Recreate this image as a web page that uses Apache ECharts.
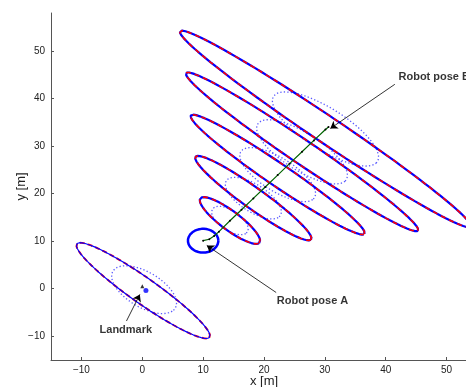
<!DOCTYPE html>
<html>
<head>
<meta charset="utf-8">
<script src="https://cdn.jsdelivr.net/npm/echarts@6/dist/echarts.min.js"></script>
<style>
html, body { margin: 0; padding: 0; background: #fff; }
#main { width: 466px; height: 387px; }
</style>
</head>
<body>
<div id="main"></div>
<script>
// tick labels
var xTicks = [-10, 0, 10, 20, 30, 40, 50];
var yTicks = [-10, 0, 10, 20, 30, 40, 50];

// robot poses along the path, with their covariance ellipses (solid) and dotted ones
var poseX = [14.4, 18.25, 22.25, 26.25, 30.1];
var poseY = [14.35, 19.05, 24.0, 28.8, 33.6];
var bigA = [6.75, 12.9, 18.96, 25.27, 31.55];
var bigB = [1.8, 2.0, 2.15, 2.3, 2.55];
var bigAng = [-44.7, -42.8, -41.3, -41.1, -40.8];
var dotA = [3.8, 5.8, 7.8, 9.4, 11];
var dotB = [1.9, 2.6, 3.2, 3.6, 4];

// landmark ellipse [cx, cy, a, b, angle]
var lmBig = [0.15, -0.4, 14.7, 2.46, -42.4];
var lmDot = [0.3, -0.2, 6.5, 3.4, -42];
var lmEst = [0.6, -0.4];
var lmTrue = [0, 0.5];

// pose A circle [cx, cy, r]
var poseA = [10, 10.1, 2.5];

// trajectory
var pathX = [10, 11, 11.8, 12.6, 14.4, 16.3, 18.25, 20.2, 22.25, 24.2, 26.25, 28.2, 30.1, 30.6];
var pathY = [10.1, 10.4, 11.1, 12.0, 14.3, 16.6, 19.0, 21.4, 23.9, 26.3, 28.8, 31.2, 33.5, 34.0];

// annotations
var notes = [
	{ text: 'Landmark', at: [-2.7, -8.7], align: 'center', from: [-2.6, -6.8], to: [-0.4, -1.2] },
	{ text: 'Robot pose A', at: [22.1, -2.5], align: 'left', from: [22.0, -0.8], to: [10.6, 9.1] },
	{ text: 'Robot pose B', at: [42.1, 44.6], align: 'left', from: [41.5, 43.0], to: [30.9, 33.7] }
];

function ellipse(cx, cy, a, b, deg) {
	var t = deg * Math.PI / 180, pts = [];
	for (var i = 0; i <= 120; i++) {
		var s = i / 120 * 2 * Math.PI;
		var u = a * Math.cos(s), v = b * Math.sin(s);
		pts.push([cx + u * Math.cos(t) - v * Math.sin(t), cy + u * Math.sin(t) + v * Math.cos(t)]);
	}
	return pts;
}

function lineSeries(data, color, width, type, z) {
	return {
		type: 'line',
		data: data,
		showSymbol: false,
		silent: true,
		lineStyle: { color: color, width: width, type: type },
		z: z
	};
}

var series = [];

// dotted ellipses
for (var i = 0; i < poseX.length; i++) {
	series.push(lineSeries(ellipse(poseX[i], poseY[i], dotA[i], dotB[i], bigAng[i]), '#5a5aff', 1.3, [1.3, 2.2], 1));
}
series.push(lineSeries(ellipse(lmDot[0], lmDot[1], lmDot[2], lmDot[3], lmDot[4]), '#5a5aff', 1.3, [1.3, 2.2], 1));

// big ellipses: blue solid, red dashed on top
for (var i = 0; i < poseX.length; i++) {
	var e = ellipse(poseX[i], poseY[i], bigA[i], bigB[i], bigAng[i]);
	series.push(lineSeries(e, '#0000ff', 2.2, 'solid', 3));
	series.push(lineSeries(e, '#ff0000', 1.6, [5, 4], 4));
}
var lm = ellipse(lmBig[0], lmBig[1], lmBig[2], lmBig[3], lmBig[4]);
series.push(lineSeries(lm, '#ff0000', 1.9, [5, 3], 3));
series.push(lineSeries(lm, '#0000ff', 1.2, 'solid', 4));

// pose A circle
series.push(lineSeries(ellipse(poseA[0], poseA[1], poseA[2], poseA[2], 0), '#0000ff', 2.5, 'solid', 3));

// trajectory
series.push({
	type: 'line',
	data: pathX.map(function (x, i) { return [x, pathY[i]]; }),
	showSymbol: true,
	symbol: 'circle',
	symbolSize: 2,
	itemStyle: { color: '#000' },
	lineStyle: { color: '#006400', width: 1.2 },
	silent: true,
	z: 6
});

// landmark markers
series.push({
	type: 'scatter',
	data: [lmEst],
	symbol: 'circle',
	symbolSize: 5,
	itemStyle: { color: '#0000ff' },
	silent: true,
	z: 7
});
series.push({
	type: 'scatter',
	data: [lmTrue],
	symbol: 'triangle',
	symbolSize: 4,
	itemStyle: { color: '#000' },
	silent: true,
	z: 7
});

// arrows
series.push({
	type: 'lines',
	coordinateSystem: 'cartesian2d',
	symbol: ['none', 'arrow'],
	symbolSize: 7,
	silent: true,
	lineStyle: { color: '#000', width: 0.8, opacity: 1 },
	data: notes.map(function (n) { return { coords: [n.from, n.to] }; }),
	z: 8
});

// texts
series.push({
	type: 'scatter',
	symbolSize: 0,
	silent: true,
	data: notes.map(function (n) {
		return {
			value: n.at,
			label: {
				show: true,
				position: 'inside',
				align: n.align,
				formatter: n.text
			}
		};
	}),
	label: {
		color: '#000',
		fontFamily: 'Liberation Sans',
		fontWeight: 'bold',
		fontSize: 11
	},
	z: 9
});

var myChart = echarts.init(document.getElementById('main'));
var fmt = function (v) { return String(v).replace('-', '\u2212'); };
var option = {
	animation: false,
	backgroundColor: '#fff',
	grid: { left: 51, top: 13, width: 426, bottom: 27, outerBoundsMode: 'none', containLabel: false },
	xAxis: {
		type: 'value',
		min: -15,
		max: 55,
		name: 'x [m]',
		nameLocation: 'middle',
		nameGap: 15,
		nameMoveOverlap: false,
		nameTextStyle: { color: '#222', fontFamily: 'Liberation Sans', fontSize: 13 },
		axisLine: { onZero: false, lineStyle: { color: '#555', width: 1 } },
		axisTick: { inside: true, length: 3, customValues: xTicks, lineStyle: { color: '#555' } },
		axisLabel: { customValues: xTicks, formatter: fmt, color: '#222', fontFamily: 'Liberation Sans', fontSize: 10, margin: 5 },
		splitLine: { show: false }
	},
	yAxis: {
		type: 'value',
		min: -15,
		max: 58,
		name: 'y [m]',
		nameLocation: 'middle',
		nameGap: 23,
		nameMoveOverlap: false,
		nameTextStyle: { color: '#222', fontFamily: 'Liberation Sans', fontSize: 13 },
		axisLine: { show: true, onZero: false, lineStyle: { color: '#555', width: 1 } },
		axisTick: { show: true, inside: true, length: 3, customValues: yTicks, lineStyle: { color: '#555' } },
		axisLabel: { customValues: yTicks, formatter: fmt, color: '#222', fontFamily: 'Liberation Sans', fontSize: 10, margin: 6 },
		splitLine: { show: false }
	},
	series: series
};
myChart.setOption(option);
</script>
</body>
</html>
